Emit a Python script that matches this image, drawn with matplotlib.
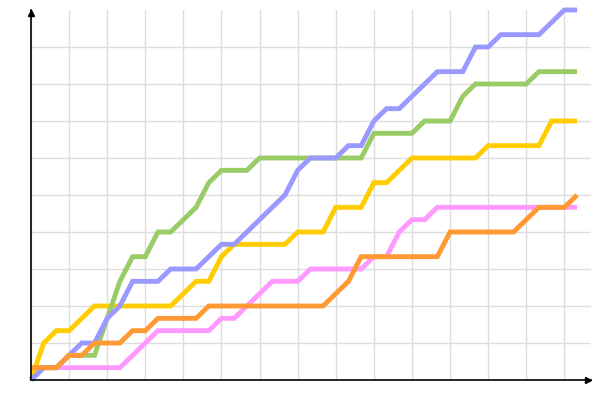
## Five step lines on a bare grid with arrow axes

import numpy as np
import matplotlib
matplotlib.use("Agg")
import matplotlib.pyplot as plt

# series values, one per step (x = 0..43)
blue = [0,1,1,2,3,3,5,6,8,8,8,9,9,9,10,11,11,12,13,14,15,17,
        18,18,18,19,19,21,22,22,23,24,25,25,25,27,27,28,28,28,28,29,30,30]
green = [0,1,1,2,2,2,5,8,10,10,12,12,13,14,16,17,17,17,18,18,18,18,
         18,18,18,18,18,20,20,20,20,21,21,21,23,24,24,24,24,24,25,25,25,25]
yellow = [0,3,4,4,5,6,6,6,6,6,6,6,7,8,8,10,11,11,11,11,11,12,
          12,12,14,14,14,16,16,17,18,18,18,18,18,18,19,19,19,19,19,21,21,21]
orange = [1,1,1,2,2,3,3,3,4,4,5,5,5,5,6,6,6,6,6,6,6,6,
          6,6,7,8,10,10,10,10,10,10,10,12,12,12,12,12,12,13,14,14,14,15]
pink = [1,1,1,1,1,1,1,1,2,3,4,4,4,4,4,5,5,6,7,8,8,8,
        9,9,9,9,9,10,10,12,13,13,14,14,14,14,14,14,14,14,14,14,14,14]

x = np.arange(len(blue))

fig = plt.figure(figsize=(6, 4), dpi=100)
ax = fig.add_axes([31/600, 20/400, 560/600, 370/400])

# drawing order bottom -> top
series = [(pink, "#ff99ff"), (yellow, "#ffcc00"), (green, "#99cc66"),
          (blue, "#9999ff"), (orange, "#ff9933")]
for k, (vals, col) in enumerate(series):
    ax.plot(x, vals, color=col, lw=3.5, solid_joinstyle="miter",
            solid_capstyle="butt", zorder=3+k, clip_on=False)

ax.set_xlim(0, 44.1)
ax.set_ylim(0, 30)
ax.set_xticks(np.arange(0, 43, 3))
ax.set_yticks(np.arange(0, 28, 3))
ax.grid(True, color="#dddddd", lw=1)
ax.set_axisbelow(True)
ax.tick_params(length=0, labelbottom=False, labelleft=False)

for s in ["top", "right"]:
    ax.spines[s].set_visible(False)
for s in ["left", "bottom"]:
    ax.spines[s].set_color("black")
    ax.spines[s].set_linewidth(1.2)
    ax.spines[s].set_zorder(10)

# arrow heads
ax.plot([43.85], [0], marker=">", ms=4, color="black", clip_on=False, zorder=11)
ax.plot([0], [29.75], marker="^", ms=4, color="black", clip_on=False, zorder=11)

fig.savefig("out.png", dpi=100)
